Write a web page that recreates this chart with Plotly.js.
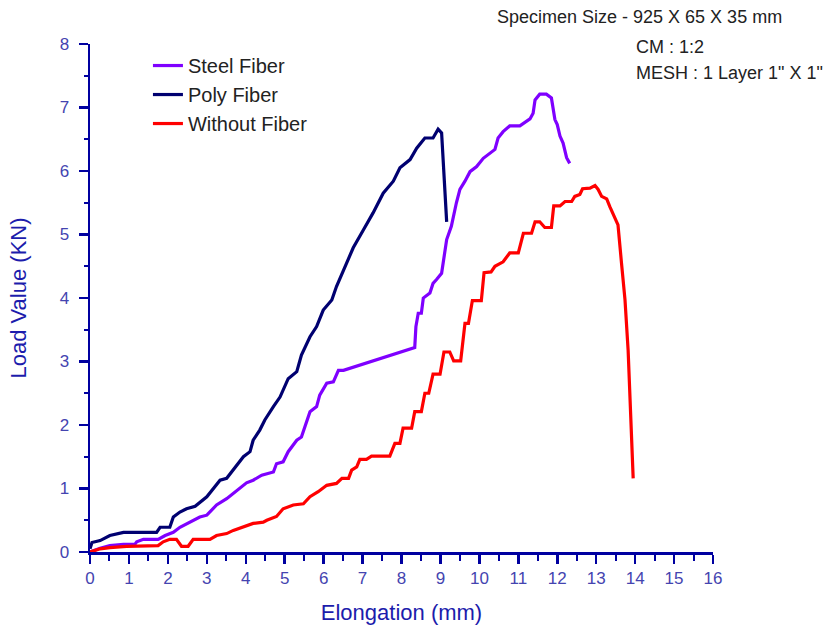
<!DOCTYPE html>
<html>
<head>
<meta charset="utf-8">
<script src="https://cdn.plot.ly/plotly-3.0.1.min.js"></script>
<style>html,body{margin:0;padding:0;background:#fff;}#chart{width:828px;height:629px;}</style>
</head>
<body>
<div id="chart"></div>
<script>
// Steel Fiber
var steelX = [0, 0.26, 0.51, 0.86, 1.15, 1.2, 1.37, 1.75, 1.93, 2.14, 2.31, 2.57, 2.82, 3.0, 3.25, 3.51, 3.77, 4.02, 4.19, 4.41, 4.71, 4.79, 4.96, 5.09, 5.31, 5.43, 5.65, 5.82, 5.9, 6.08, 6.25, 6.38, 6.51, 8.34, 8.37, 8.43, 8.51, 8.56, 8.73, 8.81, 8.9, 9.03, 9.16, 9.24, 9.28, 9.41, 9.46, 9.5, 9.63, 9.76, 9.93, 10.1, 10.4, 10.48, 10.61, 10.78, 11.04, 11.17, 11.3, 11.38, 11.43, 11.55, 11.72, 11.85, 11.94, 12.0, 12.07, 12.15, 12.19, 12.24, 12.32];
var steelY = [0, 0.06, 0.1, 0.12, 0.12, 0.16, 0.2, 0.2, 0.26, 0.31, 0.39, 0.47, 0.55, 0.58, 0.74, 0.84, 0.97, 1.09, 1.13, 1.21, 1.26, 1.39, 1.42, 1.58, 1.76, 1.81, 2.21, 2.29, 2.47, 2.66, 2.68, 2.86, 2.86, 3.22, 3.55, 3.76, 3.76, 4.0, 4.08, 4.23, 4.29, 4.39, 4.92, 5.07, 5.13, 5.5, 5.65, 5.71, 5.84, 5.99, 6.07, 6.2, 6.34, 6.52, 6.62, 6.71, 6.71, 6.77, 6.82, 6.91, 7.12, 7.21, 7.21, 7.15, 6.81, 6.73, 6.55, 6.44, 6.31, 6.21, 6.12];

// Poly Fiber
var polyX = [0, 0.05, 0.26, 0.51, 0.86, 1.71, 1.8, 2.05, 2.14, 2.31, 2.48, 2.7, 3.0, 3.17, 3.34, 3.51, 3.68, 3.94, 4.11, 4.19, 4.36, 4.49, 4.71, 4.88, 5.09, 5.31, 5.43, 5.65, 5.82, 5.99, 6.21, 6.33, 6.59, 6.76, 7.02, 7.27, 7.53, 7.79, 7.96, 8.22, 8.39, 8.6, 8.81, 8.94, 9.03, 9.16];
var polyY = [0.05, 0.15, 0.18, 0.26, 0.31, 0.31, 0.39, 0.39, 0.55, 0.63, 0.68, 0.72, 0.87, 1.0, 1.13, 1.16, 1.29, 1.5, 1.58, 1.76, 1.92, 2.08, 2.29, 2.44, 2.73, 2.84, 3.1, 3.39, 3.55, 3.81, 3.97, 4.18, 4.55, 4.79, 5.07, 5.34, 5.65, 5.84, 6.05, 6.18, 6.36, 6.52, 6.52, 6.66, 6.6, 5.2];

// Without Fiber
var plainX = [0, 0.26, 0.51, 0.94, 1.75, 1.88, 2.05, 2.22, 2.35, 2.52, 2.65, 3.08, 3.25, 3.51, 3.68, 3.94, 4.19, 4.45, 4.54, 4.79, 4.96, 5.22, 5.48, 5.65, 5.86, 6.08, 6.33, 6.47, 6.64, 6.72, 6.85, 6.93, 7.1, 7.23, 7.7, 7.83, 7.96, 8.04, 8.26, 8.34, 8.51, 8.6, 8.7, 8.81, 8.99, 9.09, 9.24, 9.34, 9.52, 9.63, 9.72, 9.82, 10.05, 10.12, 10.3, 10.4, 10.61, 10.78, 11.0, 11.13, 11.34, 11.43, 11.55, 11.68, 11.85, 11.91, 12.07, 12.2, 12.37, 12.45, 12.58, 12.65, 12.84, 12.97, 13.05, 13.14, 13.27, 13.35, 13.44, 13.56, 13.65, 13.74, 13.82, 13.95];
var plainY = [0, 0.05, 0.07, 0.09, 0.1, 0.16, 0.2, 0.2, 0.09, 0.09, 0.2, 0.2, 0.26, 0.29, 0.34, 0.39, 0.45, 0.47, 0.5, 0.56, 0.68, 0.74, 0.76, 0.87, 0.95, 1.05, 1.08, 1.16, 1.16, 1.29, 1.34, 1.46, 1.46, 1.51, 1.51, 1.71, 1.71, 1.95, 1.95, 2.21, 2.21, 2.5, 2.5, 2.8, 2.8, 3.15, 3.15, 3.01, 3.01, 3.6, 3.6, 3.96, 3.96, 4.4, 4.41, 4.5, 4.57, 4.71, 4.71, 5.02, 5.02, 5.2, 5.2, 5.11, 5.11, 5.45, 5.45, 5.52, 5.52, 5.6, 5.63, 5.72, 5.73, 5.77, 5.71, 5.6, 5.56, 5.44, 5.31, 5.15, 4.55, 3.97, 3.18, 1.16];

var seriesNames = ['Steel Fiber', 'Poly Fiber', 'Without Fiber'];
var xTickVals = [0,1,2,3,4,5,6,7,8,9,10,11,12,13,14,15,16];
var yTickVals = [0,1,2,3,4,5,6,7,8];
var noteLines = ['Specimen Size - 925 X 65 X 35 mm', 'CM : 1:2', 'MESH : 1 Layer 1" X 1"'];

var FONT = 'Arial, "Liberation Sans", sans-serif';
var AXC = '#0000a0';

function trace(x, y, name, color) {
  return {x: x, y: y, name: name, legendgroup: name, type: 'scatter', mode: 'lines',
    line: {color: color, width: 3.2, shape: 'linear'}, hoverinfo: 'skip'};
}

var data = [
  trace(steelX, steelY, seriesNames[0], '#7f00ff'),
  trace(polyX, polyY, seriesNames[1], '#000070'),
  trace(plainX, plainY, seriesNames[2], '#ff0000')
];

var axisCommon = {
  showline: true, linecolor: AXC, linewidth: 2.5, showgrid: false, zeroline: false,
  ticks: 'outside', ticklen: 9, tickwidth: 2.5, tickcolor: AXC,
  tickfont: {family: FONT, size: 17, color: '#4444b0'},
  fixedrange: true
};

var layout = {
  width: 828, height: 629,
  margin: {l: 90, r: 115, t: 44, b: 77, pad: 0},
  paper_bgcolor: '#ffffff', plot_bgcolor: '#ffffff',
  showlegend: true,
  legend: {x: 0.093, xanchor: 'left', y: 0.996, yanchor: 'top', bgcolor: 'rgba(0,0,0,0)',
    font: {family: FONT, size: 20, color: '#222222'}, tracegroupgap: 0, traceorder: 'normal'},
  xaxis: Object.assign({}, axisCommon, {
    range: [0, 16], tickvals: xTickVals, ticktext: xTickVals.map(String),
    minor: {dtick: 0.5, tick0: 0, ticks: 'outside', ticklen: 6, tickwidth: 2, tickcolor: AXC},
    title: {text: 'Elongation (mm)', font: {family: FONT, size: 22, color: '#1c1cac'}, standoff: 18}
  }),
  yaxis: Object.assign({}, axisCommon, {
    range: [0, 8], tickvals: yTickVals, ticktext: yTickVals.map(String),
    minor: {dtick: 0.5, tick0: 0, ticks: 'outside', ticklen: 4, tickwidth: 2, tickcolor: AXC},
    ticklabelstandoff: 6,
    title: {text: 'Load Value (KN)', font: {family: FONT, size: 22, color: '#1c1cac'}, standoff: 27}
  }),
  annotations: [
    {text: noteLines[0], xref: 'paper', yref: 'paper', x: 0.65, y: 1.053, xanchor: 'left', yanchor: 'middle', showarrow: false, font: {family: FONT, size: 18, color: '#222222'}},
    {text: noteLines[1], xref: 'paper', yref: 'paper', x: 0.873, y: 0.995, xanchor: 'left', yanchor: 'middle', showarrow: false, font: {family: FONT, size: 18, color: '#222222'}},
    {text: noteLines[2], xref: 'paper', yref: 'paper', x: 0.873, y: 0.943, xanchor: 'left', yanchor: 'middle', showarrow: false, font: {family: FONT, size: 18, color: '#222222'}}
  ]
};

Plotly.newPlot('chart', data, layout, {displayModeBar: false, staticPlot: true});
</script>
</body>
</html>
